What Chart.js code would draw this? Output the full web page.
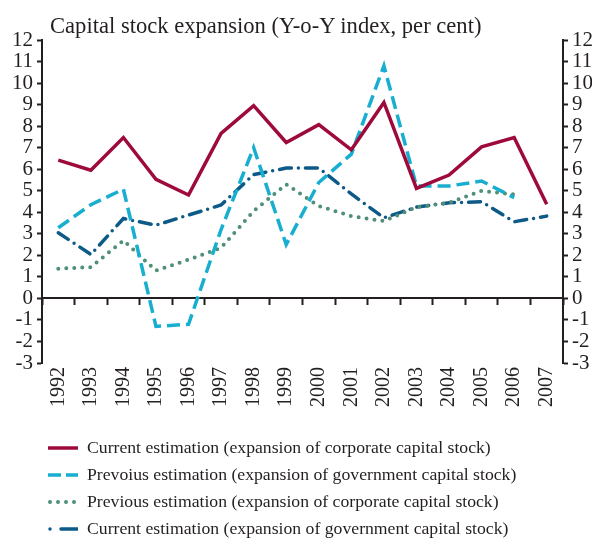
<!DOCTYPE html>
<html>
<head>
<meta charset="utf-8">
<script src="https://cdn.jsdelivr.net/npm/chart.js@4.4.1/dist/chart.umd.min.js"></script>
<style>
  html, body { margin: 0; padding: 0; background: #fff; }
  #wrap { position: relative; width: 592px; height: 538px; font-family: "Liberation Serif", serif; color: #231f20; }
  #chart { position: absolute; left: 0; top: 0; }
  #title { position: absolute; left: 50px; top: 15px; font-size: 22.6px; line-height: 22px; white-space: nowrap; }
  #legend { position: absolute; left: 48px; top: 434px; font-size: 17.7px; }
  .item { display: flex; align-items: center; height: 27px; white-space: nowrap; }
  .item svg { margin-right: 9px; }
</style>
</head>
<body>
<div id="wrap">
  <canvas id="chart" width="592" height="538"></canvas>
  <div id="title">Capital stock expansion (Y-o-Y index, per cent)</div>
  <div id="legend"></div>
</div>
<script>
const years = ['1992', '1993', '1994', '1995', '1996', '1997', '1998', '1999',
               '2000', '2001', '2002', '2003', '2004', '2005', '2006', '2007'];

// Y-o-Y expansion, per cent
const corpCurrent  = [6.42, 5.95, 7.47, 5.53, 4.80, 7.66, 8.95, 7.24, 8.07, 6.9, 9.1, 5.11, 5.73, 7.04, 7.47, 4.37];
const govPrevious  = [3.28, 4.35, 5.07, -1.30, -1.20, 3.2, 7.0, 2.5, 5.38, 6.7, 10.8, 5.22, 5.22, 5.45, 4.68, null];
const corpPrevious = [1.38, 1.45, 2.69, 1.29, 1.80, 2.35, 4.06, 5.3, 4.29, 3.82, 3.59, 4.24, 4.44, 4.99, 4.83, null];
const govCurrent   = [3.05, 2.04, 3.71, 3.40, 3.87, 4.34, 5.75, 6.05, 6.05, 4.85, 3.74, 4.24, 4.44, 4.49, 3.56, 3.82];

const yMin = -3, yMax = 12;

const series = [
  { label: 'Current estimation (expansion of corporate capital stock)', data: corpCurrent,
    color: '#9e0b3a', width: 3.5, dash: [], cap: 'butt', svgDash: '' },
  { label: 'Prevoius estimation (expansion of government capital stock)', data: govPrevious,
    color: '#17aed0', width: 3.5, dash: [13, 6], cap: 'butt', svgDash: '13 5' },
  { label: 'Previous estimation (expansion of corporate capital stock)', data: corpPrevious,
    color: '#4f8f77', width: 4, dash: [0, 8], cap: 'round', svgDash: '0 8' },
  { label: 'Current estimation (expansion of government capital stock)', data: govCurrent,
    color: '#0d5a88', width: 3.5, dash: [12, 7, 0, 7], cap: 'round', svgDash: '0 11 18 0' }
];

const ink = '#231f20';
const tickFont = { family: 'Liberation Serif', size: 21 };

function yAxis(pos, w) {
  return {
    position: pos, min: yMin, max: yMax,
    ticks: { stepSize: 1, autoSkip: false, color: ink, font: tickFont, padding: 4 },
    grid: { drawOnChartArea: false, tickLength: 5, tickWidth: 2, tickColor: ink },
    border: { color: ink, width: 2 },
    afterFit: s => { s.width = w; }
  };
}

new Chart(document.getElementById('chart'), {
  type: 'line',
  data: {
    labels: years,
    datasets: series.map(s => ({
      label: s.label, data: s.data,
      borderColor: s.color, borderWidth: s.width,
      borderDash: s.dash, borderCapStyle: s.cap, borderJoinStyle: 'miter',
      pointRadius: 0, tension: 0, fill: false
    }))
  },
  options: {
    responsive: false,
    animation: false,
    layout: { padding: { top: 40, bottom: 130, left: 0, right: 0 } },
    plugins: { legend: { display: false }, title: { display: false }, tooltip: { enabled: false } },
    scales: {
      x: {
        offset: true,
        grid: { display: false, drawTicks: false },
        border: { display: false },
        ticks: { color: ink, font: { family: 'Liberation Serif', size: 20 },
                 minRotation: 90, maxRotation: 90, autoSkip: false, padding: 4 },
        afterFit: s => { s.height = 45; }
      },
      // zero line with category tick marks
      xz: {
        type: 'category', offset: true,
        position: { y: 0 },
        grid: { offset: true, drawOnChartArea: false, tickLength: 6, tickWidth: 2, tickColor: ink },
        border: { color: ink, width: 2 },
        ticks: { display: false }
      },
      y: yAxis('left', 42),
      y2: yAxis('right', 29)
    }
  }
});

// legend rows
const legend = document.getElementById('legend');
series.forEach(s => {
  const row = document.createElement('div');
  row.className = 'item';
  const dash = s.svgDash ? ` stroke-dasharray="${s.svgDash}"` : '';
  row.innerHTML =
    `<svg width="30" height="8"><line x1="${s.cap === 'round' ? 2 : 0}" y1="4" x2="30" y2="4" stroke="${s.color}"` +
    ` stroke-width="${s.width}" stroke-linecap="${s.cap}"${dash}/></svg><span>${s.label}</span>`;
  legend.appendChild(row);
});
</script>
</body>
</html>
